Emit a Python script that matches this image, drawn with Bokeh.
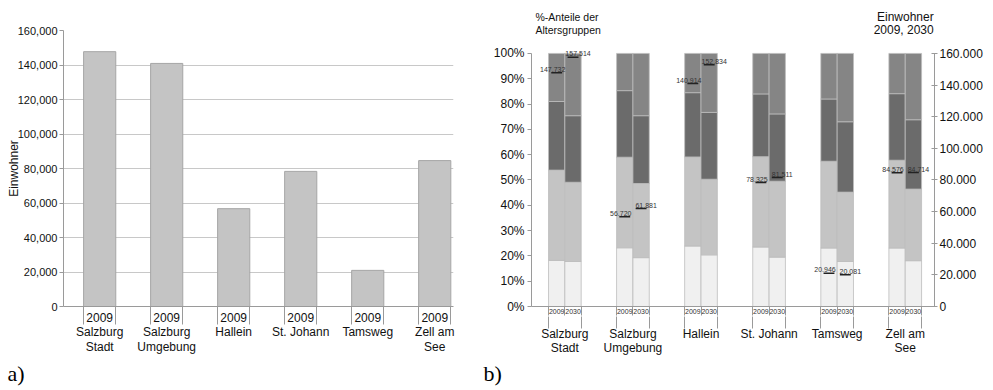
from bokeh.plotting import figure
from bokeh.models import (ColumnDataSource, FixedTicker, LinearAxis, Range1d,
                          NumeralTickFormatter)
from bokeh.core.properties import value
from bokeh.layouts import row, column
from bokeh.embed import file_html
from bokeh.resources import INLINE

FONT = "Liberation Sans"

# ---------------- data ----------------
regions_a = ["Salzburg\nStadt", "Salzburg\nUmgebung", "Hallein", "St. Johann", "Tamsweg", "Zell am\nSee"]
einwohner_2009 = [147732, 140914, 56720, 78325, 20946, 84576]
year_a = "2009"

years_b = ["2009", "2030"]
# age-group shares (%) per region, bottom to top
young_2009 = [18.2, 23.2, 23.9, 23.5, 23.1, 23.1]
mid1_2009 = [35.7, 35.8, 35.2, 35.7, 34.3, 34.7]
mid2_2009 = [27.1, 26.3, 25.4, 24.8, 24.6, 26.3]
old_2009 = [19.0, 14.7, 15.5, 16.0, 18.0, 15.9]
young_2030 = [17.8, 19.3, 20.4, 19.5, 17.8, 18.1]
mid1_2030 = [31.3, 29.3, 29.9, 30.0, 27.4, 28.3]
mid2_2030 = [26.3, 26.8, 26.4, 26.6, 27.8, 27.4]
old_2030 = [24.6, 24.6, 23.3, 23.9, 27.0, 26.2]
# population markers as drawn at each region (right axis)
marker_2009 = [147732, 56720, 140914, 78325, 20946, 84576]
marker_2030 = [157514, 61881, 152834, 81511, 20081, 84714]

pct_ticks = [0, 0.1, 0.2, 0.3, 0.4, 0.5, 0.6, 0.7, 0.8, 0.9, 1.0]
pop_ticks = [0, 20000, 40000, 60000, 80000, 100000, 120000, 140000, 160000]

left_title_b = ["%-Anteile der", "Altersgruppen"]
right_title_b = ["Einwohner", "2009, 2030"]
panel_tags = ["a)", "b)"]

seg_colors = ["#f0f0f0", "#c4c4c4", "#6b6b6b", "#858585"]
AXC = "#9a9a9a"
TXT = "#111111"


def de(v):
    return f"{v:,}".replace(",", ".")


def blank(w, h):
    f = figure(width=w, height=h, x_range=Range1d(0, w), y_range=Range1d(h, 0),
               output_backend="svg", toolbar_location=None, x_axis_type=None, y_axis_type=None,
               min_border=0)
    f.outline_line_color = None
    f.grid.visible = False
    return f


n = len(regions_a)

# ---------------- chart a ----------------
pa = figure(width=478, height=358, x_range=Range1d(-0.54, 5.28), y_range=Range1d(0, 160000),
            output_backend="svg", toolbar_location=None,
            min_border_left=63, min_border_right=25, min_border_top=30, min_border_bottom=52)
pa.outline_line_color = None
src_a = ColumnDataSource(dict(x=list(range(n)), top=einwohner_2009))
pa.vbar(x="x", top="top", width=0.48, source=src_a, fill_color="#c4c4c4", line_color="#a6a6a6")

edges_a = []
for i in range(n):
    edges_a += [i - 0.24, i + 0.24]
pa.xaxis.ticker = FixedTicker(ticks=list(range(n)), minor_ticks=edges_a)
pa.xaxis.major_label_overrides = {i: f"{year_a}\n{regions_a[i]}" for i in range(n)}
pa.xaxis.major_tick_out = 0
pa.xaxis.major_tick_in = 0
pa.xaxis.minor_tick_out = 18
pa.xaxis.minor_tick_in = 0
pa.xaxis.minor_tick_line_color = AXC
pa.xaxis.axis_line_color = AXC
pa.xaxis.major_label_standoff = -14
pa.xaxis.major_label_text_font = FONT
pa.xaxis.major_label_text_font_size = "12px"
pa.xaxis.major_label_text_color = TXT
pa.xaxis.major_label_text_line_height = 1.05

pa.yaxis.ticker = FixedTicker(ticks=pop_ticks)
pa.yaxis.formatter = NumeralTickFormatter(format="0,0")
pa.yaxis.major_tick_out = 4
pa.yaxis.major_tick_in = 0
pa.yaxis.major_tick_line_color = AXC
pa.yaxis.axis_line_color = AXC
pa.yaxis.major_label_standoff = 2
pa.yaxis.major_label_text_font = FONT
pa.yaxis.major_label_text_font_size = "11px"
pa.yaxis.major_label_text_color = TXT
pa.yaxis.axis_label = "Einwohner"
pa.yaxis.axis_label_standoff = -6
pa.yaxis.axis_label_text_font = FONT
pa.yaxis.axis_label_text_font_size = "12px"
pa.yaxis.axis_label_text_font_style = "normal"
pa.yaxis.axis_label_text_color = TXT
pa.xgrid.visible = False
pa.ygrid.grid_line_color = "#c8c8c8"

# ---------------- chart b ----------------
PCT_END = 1.0353   # a little room above 100 % for the top value labels
pb = figure(width=507, height=322, x_range=Range1d(-0.49, 5.43), y_range=Range1d(0, PCT_END),
            output_backend="svg", toolbar_location=None, x_axis_type=None,
            min_border_left=53, min_border_right=48, min_border_top=8, min_border_bottom=50)
pb.outline_line_color = None
pb.grid.visible = False
pb.extra_y_ranges = {"pop": Range1d(0, 160000 * PCT_END)}

xs = [i - 0.12 for i in range(n)] + [i + 0.12 for i in range(n)]
src_b = ColumnDataSource(dict(
    x=xs,
    young=[v / 100 for v in young_2009 + young_2030],
    mid1=[v / 100 for v in mid1_2009 + mid1_2030],
    mid2=[v / 100 for v in mid2_2009 + mid2_2030],
    old=[v / 100 for v in old_2009 + old_2030],
))
pb.vbar_stack(["young", "mid1", "mid2", "old"], x="x", width=0.24, source=src_b,
              fill_color=seg_colors, line_color="#bdbdbd", line_width=0.8)

src_m = ColumnDataSource(dict(
    x0=[x - 0.08 for x in xs], x1=[x + 0.08 for x in xs], x=xs,
    v=marker_2009 + marker_2030,
    lab=[de(v) for v in marker_2009 + marker_2030],
    off=[-4] * n + [5] * n,
))
pb.segment(x0="x0", x1="x1", y0="v", y1="v", source=src_m, y_range_name="pop",
           line_color="#222222", line_width=1.5)
pb.text(x="x", y="v", text="lab", source=src_m, y_range_name="pop", x_offset="off", y_offset=-1,
        text_align="center", text_baseline="bottom", text_font_size="7px",
        text_color="#333333", text_font=value(FONT))

# left axis
pb.yaxis.ticker = FixedTicker(ticks=pct_ticks)
pb.yaxis.formatter = NumeralTickFormatter(format="0%")
pb.yaxis.bounds = (0, 1)
pb.yaxis.major_tick_out = 4
pb.yaxis.major_tick_in = 0
pb.yaxis.major_tick_line_color = AXC
pb.yaxis.axis_line_color = AXC
pb.yaxis.major_label_standoff = 3
pb.yaxis.major_label_text_font = FONT
pb.yaxis.major_label_text_font_size = "12px"
pb.yaxis.major_label_text_color = TXT

# right axis
ra = LinearAxis(y_range_name="pop", ticker=FixedTicker(ticks=pop_ticks), bounds=(0, 160000),
                major_label_overrides={t: de(t) for t in pop_ticks})
ra.major_tick_out = 3
ra.major_tick_in = 3
ra.major_tick_line_color = AXC
ra.axis_line_color = AXC
ra.major_label_standoff = 2
ra.major_label_text_font = FONT
ra.major_label_text_font_size = "12px"
ra.major_label_text_color = TXT
pb.add_layout(ra, "right")

# year axis
sep_mid = []
for i in range(n):
    sep_mid += [i - 0.24, i, i + 0.24]
ya = LinearAxis(ticker=FixedTicker(ticks=xs, minor_ticks=sep_mid),
                major_label_overrides={x: (years_b[0] if k < n else years_b[1]) for k, x in enumerate(xs)})
ya.major_tick_out = 0
ya.major_tick_in = 0
ya.minor_tick_out = 9
ya.minor_tick_in = 0
ya.minor_tick_line_color = AXC
ya.axis_line_color = AXC
ya.major_label_standoff = -7
ya.major_label_text_font = FONT
ya.major_label_text_font_size = "7px"
ya.major_label_text_color = "#333333"
pb.add_layout(ya, "below")

# region axis
sep_out = []
for i in range(n):
    sep_out += [i - 0.24, i + 0.24]
ga = LinearAxis(ticker=FixedTicker(ticks=list(range(n)), minor_ticks=sep_out),
                major_label_overrides={i: regions_a[i] for i in range(n)})
ga.major_tick_out = 0
ga.major_tick_in = 0
ga.minor_tick_out = 12
ga.minor_tick_in = 0
ga.minor_tick_line_color = AXC
ga.axis_line_color = None
ga.major_label_standoff = -2
ga.major_label_text_font = FONT
ga.major_label_text_font_size = "12px"
ga.major_label_text_color = TXT
ga.major_label_text_line_height = 1.05
pb.add_layout(ga, "below")

# ---------------- header above chart b ----------------
ptop = blank(507, 36)
ptop.text(x=[5, 5], y=[16, 29], text=left_title_b, text_align="left", text_baseline="middle",
          text_font=value(FONT), text_font_size="10.5px", text_color=TXT)
ptop.text(x=[506, 506], y=[16, 29], text=right_title_b, text_align="right", text_baseline="middle",
          text_font=value(FONT), text_font_size="12px", text_color=TXT)

# ---------------- panel tags a) b) ----------------
pbot = blank(985, 30)
pbot.text(x=[7, 483], y=[15, 15], text=panel_tags, text_align="left", text_baseline="middle",
          text_font=value("Liberation Serif"), text_font_size="22px", text_color="#000000")

layout = column(row(pa, column(ptop, pb)), pbot)
open("out.html", "w").write(file_html(layout, INLINE))
